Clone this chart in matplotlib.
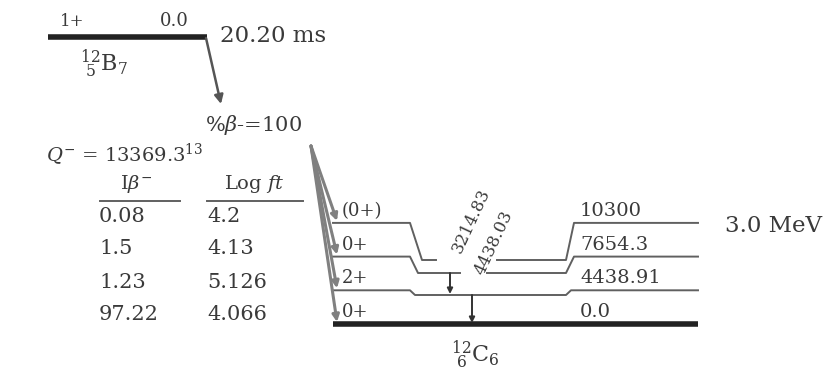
import matplotlib.pyplot as plt

# parent level
parent_spin = "1+"
parent_energy = "0.0"
half_life = "20.20 ms"
branch = "%β-=100"
q_value = "13369.3"
q_unc = "13"

# daughter levels (top to bottom)
level_energies = ["10300", "7654.3", "4438.91", "0.0"]
level_spins = ["(0+)", "0+", "2+", "0+"]
beta_intensity = ["0.08", "1.5", "1.23", "97.22"]
log_ft = ["4.2", "4.13", "5.126", "4.066"]

# gammas: label, from level index, to level index
gamma_labels = ["3214.83", "4438.03"]
gamma_from = [1, 2]
gamma_to = [2, 3]

TXT = "#3a3a3a"
LN = "#606060"
plt.rcParams['font.family'] = ['DejaVu Serif']
plt.rcParams['mathtext.fontset'] = 'dejavuserif'

fig = plt.figure(figsize=(8.37, 3.78), dpi=100)
ax = fig.add_axes([0, 0, 1, 1])
ax.set_xlim(0, 837)
ax.set_ylim(378, 0)
ax.axis('off')

# parent
ax.plot([48, 207], [37, 37], color="#222222", lw=4, solid_capstyle='butt')
ax.text(60, 30, parent_spin, fontsize=12, color=TXT, va='bottom')
ax.text(160, 30, parent_energy, fontsize=13, color=TXT, va='bottom')
ax.text(220, 36, half_life, fontsize=16.5, color=TXT, va='center')
ax.text(80, 64, r"$^{12}_{\ 5}$B$_7$", fontsize=16, color=TXT, va='center')
ax.annotate("", xy=(221, 104), xytext=(206, 38),
            arrowprops=dict(arrowstyle='-|>', color="#555555", lw=1.8, mutation_scale=13,
                            shrinkA=0, shrinkB=0))
ax.text(205, 125, r"%$\beta$-=100", fontsize=15, color=TXT, va='center')

# table
ax.text(46, 154, r"$Q^{-}$ = " + q_value + r"$^{" + q_unc + "}$", fontsize=14, color=TXT, va='center')
ax.text(120, 184, r"I$\beta^{-}$", fontsize=14, color=TXT, va='center')
ax.text(224, 184, r"Log $ft$", fontsize=14, color=TXT, va='center')
ax.plot([100, 180], [201, 201], color=LN, lw=1.4)
ax.plot([207, 303], [201, 201], color=LN, lw=1.4)

n = len(level_energies)
y_ground = 324
spacing = 33.7
level_y = [y_ground - (n - 1 - i) * spacing for i in range(n)]
row_y = [y_ground - 9 - (n - 1 - i) * 33 for i in range(n)]

for i in range(n):
    ax.text(99, row_y[i], beta_intensity[i], fontsize=15, color=TXT, va='center')
    ax.text(207, row_y[i], log_ft[i], fontsize=15, color=TXT, va='center')

# daughter levels with jog in the middle
x0, x1 = 333, 698
jog_l, jog_r = 410, 566
mid_y = [260, 273, 295, None]
for i in range(n):
    y = level_y[i]
    if mid_y[i] is None:
        ax.plot([x0, x1], [y, y], color="#222222", lw=4, solid_capstyle='butt')
    elif i == 0:
        m = mid_y[i]
        ax.plot([x0, jog_l, jog_l + 12, 436], [y, y, m, m], color=LN, lw=1.4)
        ax.plot([497, jog_r, jog_r + 8, x1], [m, m, y, y], color=LN, lw=1.4)
    elif i == 1:
        m = mid_y[i]
        ax.plot([x0, jog_l, jog_l + 8, 460], [y, y, m, m], color=LN, lw=1.4)
        ax.plot([487, jog_r, jog_r + 8, x1], [m, m, y, y], color=LN, lw=1.4)
    else:
        m = mid_y[i]
        ax.plot([x0, jog_l, jog_l + 5, jog_r, jog_r + 5, x1], [y, y, m, m, y, y], color=LN, lw=1.4)
    ax.text(342, y - 3, level_spins[i], fontsize=13, color=TXT, va='bottom')
    ax.text(580, y - 3, level_energies[i], fontsize=14, color=TXT, va='bottom')

    # beta feeding
    ax.annotate("", xy=(337, y - 2), xytext=(311, 146),
                arrowprops=dict(arrowstyle='-|>', color="#808080", lw=2.2, mutation_scale=10,
                                shrinkA=0, shrinkB=0))

# gammas
mid_lookup = [260, 273, 295, y_ground]
gx = [450, 472]
for k in range(len(gamma_labels)):
    ya = mid_lookup[gamma_from[k]]
    yb = mid_lookup[gamma_to[k]]
    ax.annotate("", xy=(gx[k], yb - 1), xytext=(gx[k], ya),
                arrowprops=dict(arrowstyle='-|>', color="#333333", lw=1.4, mutation_scale=8,
                                shrinkA=0, shrinkB=0))
ax.text(471, 221, gamma_labels[0], fontsize=12, color=TXT, rotation=65, ha='center', va='center')
ax.text(494, 243, gamma_labels[1], fontsize=12, color=TXT, rotation=65, ha='center', va='center')

ax.text(725, 226, "3.0 MeV", fontsize=16.5, color=TXT, va='center')
ax.text(475, 355, r"$^{12}_{\ 6}$C$_6$", fontsize=16, color=TXT, ha='center', va='center')

fig.savefig("out.png", dpi=100)
